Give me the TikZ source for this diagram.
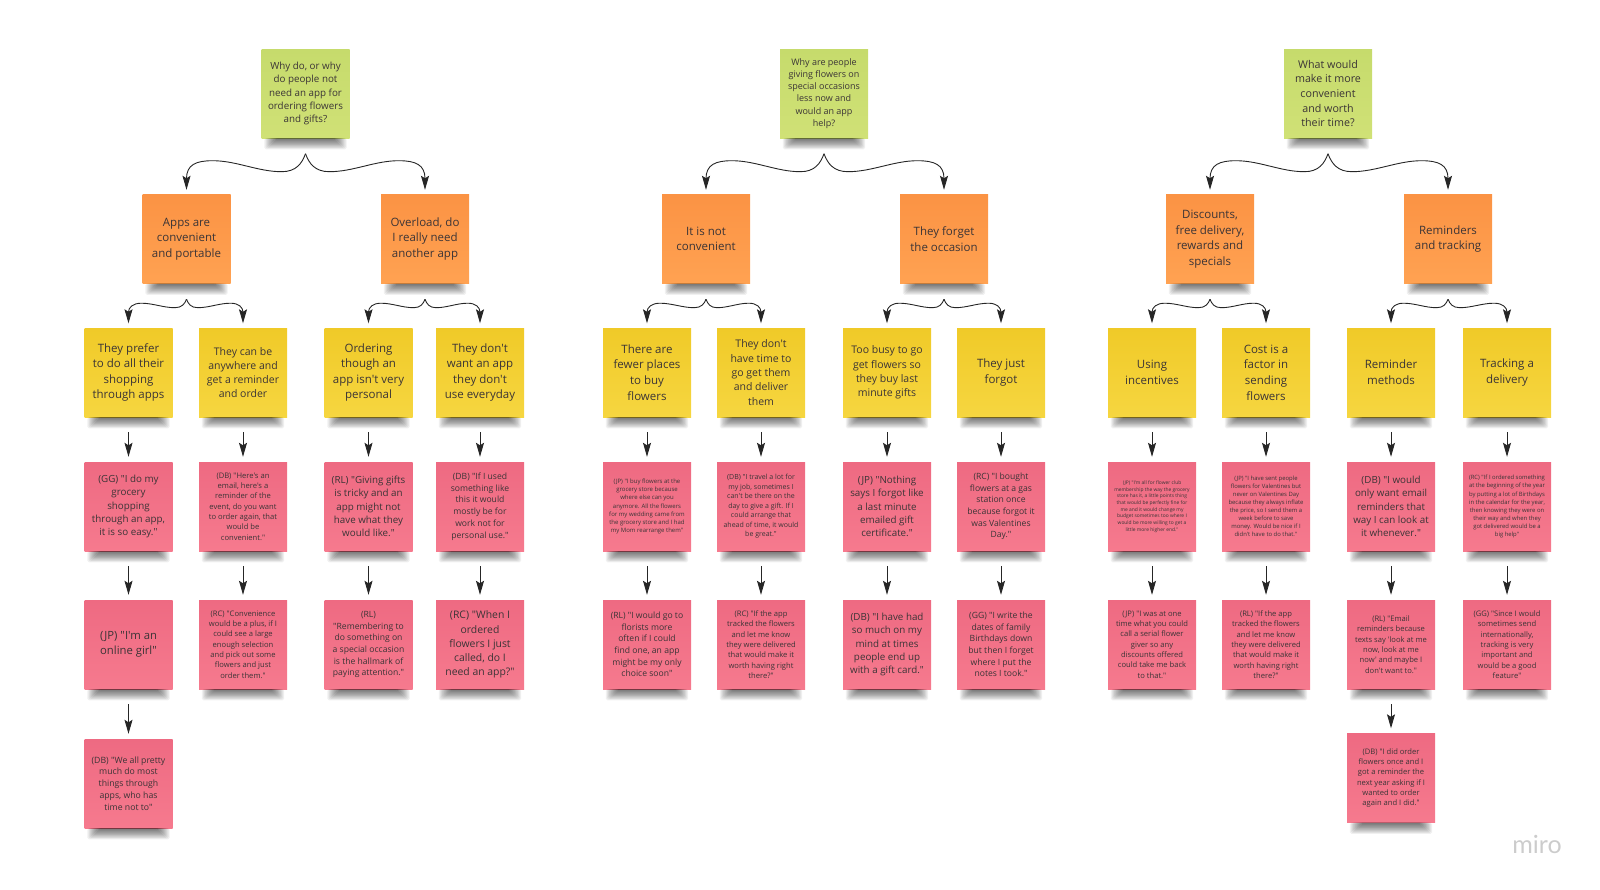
\documentclass[tikz,border=0pt]{standalone}
\usepackage{fontspec}
\usetikzlibrary{arrows.meta,calc}
\newfontfamily\osf{Open Sans}
\newfontfamily\logofont{Lato}
\definecolor{inkc}{HTML}{3B3436}
\definecolor{c6db6c}{HTML}{C6DB6C}\definecolor{d0e176}{HTML}{D0E176}
\definecolor{fb9344}{HTML}{FB9344}\definecolor{ffa252}{HTML}{FFA252}
\definecolor{f0ca28}{HTML}{F0CA28}\definecolor{f6d640}{HTML}{F6D640}
\definecolor{ec6a82}{HTML}{EE6A82}\definecolor{f57a8e}{HTML}{F67A8E}
\tikzset{
  note/.style={minimum width=88pt,minimum height=89pt,inner sep=0pt,align=center,text=inkc},
  greennote/.style={note,top color=c6db6c,bottom color=d0e176},
  orangenote/.style={note,top color=fb9344,bottom color=ffa252},
  yellownote/.style={note,top color=f0ca28,bottom color=f6d640},
  pinknote/.style={note,top color=ec6a82,bottom color=f57a8e},
  conn/.style={draw=black!85,line width=0.9pt,-{Stealth[length=14pt,width=8pt,inset=2.5pt]}},
}
% name, x, y, style, font size, text
\newcommand\sticky[6]{%
  \pgfmathsetmacro\blskip{#5*1.36}%
  \node[#4,font=\osf\fontsize{#5}{\blskip}\selectfont] (#1) at (#2,#3) {#6};
  \foreach \i in {1,...,12}{
    \fill[black,opacity=0.058,rounded corners=1.5pt] ([xshift={2+\i*1.1},yshift=0pt]#1.south west) rectangle ([xshift={-2-\i*1.1},yshift={-12+\i*0.9}]#1.south east);
  }
}
% parent, child, dip, high
\newcommand\curly[4]{%
  \draw[conn] let \p1=($(#1.south)+(0,15.5)$), \p2=($(#2.north)+(0,-4.5)$), \n1={\x2-\x1} in
    (\x1,\y1) .. controls ({\x1+0.03*\n1},{\y1-0.55*#3}) and ({\x1+0.08*\n1},{\y1-#3}) ..
    ({\x1+0.2*\n1},{\y1-#3}) .. controls ({\x1+0.4*\n1},{\y1-#3}) and ({\x1+0.58*\n1},{\y1-#4}) ..
    ({\x1+0.78*\n1},{\y1-#4}) .. controls ({\x1+0.92*\n1},{\y1-#4}) and (\x2,{\y1-#4-4pt}) .. (\x2,\y2);
}
\newcommand\flow[2]{\draw[conn] ($(#1.south)+(0,15)$) -- ($(#2.north)+(0,-5)$);}
\begin{document}
\begin{tikzpicture}[x=1pt,y=-1pt]
\useasboundingbox (0,0) rectangle (1600,889);
% ---------- column A
\sticky{qa}{305.5}{93.5}{greennote}{9.8}{Why do, or why\\do people not\\need an app for\\ordering flowers\\and gifts?}
\sticky{oa}{186.5}{239}{orangenote}{11.5}{Apps are\\convenient\\and portable}
\sticky{ob}{425}{239}{orangenote}{11.5}{Overload, do\\I really need\\another app}
\sticky{ya}{128.5}{372.5}{yellownote}{11.5}{They prefer\\to do all their\\shopping\\through apps}
\sticky{yb}{243}{372.5}{yellownote}{10.5}{They can be\\anywhere and\\get a reminder\\and order}
\sticky{yc}{368.5}{372.5}{yellownote}{11.5}{Ordering\\though an\\app isn't very\\personal}
\sticky{yd}{480}{372.5}{yellownote}{11.5}{They don't\\want an app\\they don't\\use everyday}
\sticky{pa}{128.5}{506.5}{pinknote}{9.8}{(GG) "I do my\\grocery\\shopping\\through an app,\\it is so easy."}
\sticky{pb}{243}{506.5}{pinknote}{7.6}{(DB) "Here's an\\email, here's a\\reminder of the\\event, do you want\\to order again, that\\would be\\convenient."}
\sticky{pc}{368.5}{506.5}{pinknote}{9.8}{(RL) "Giving gifts\\is tricky and an\\app might not\\have what they\\would like."}
\sticky{pd}{480}{506.5}{pinknote}{8.6}{(DB) "If I used\\something like\\this it would\\mostly be for\\work not for\\personal use."}
\sticky{ra}{128.5}{644.5}{pinknote}{11.3}{(JP) "I'm an\\online girl"}
\sticky{rb}{243}{644.5}{pinknote}{7.6}{(RC) "Convenience\\would be a plus, if I\\could see a large\\enough selection\\and pick out some\\flowers and just\\order them."}
\sticky{rc}{368.5}{644.5}{pinknote}{8.6}{(RL)\\"Remembering to\\do something on\\a special occasion\\is the hallmark of\\paying attention."}
\sticky{rd}{480}{644.5}{pinknote}{10.4}{(RC) "When I\\ordered\\flowers I just\\called, do I\\need an app?"}
\sticky{sa}{128.5}{783.5}{pinknote}{8.7}{(DB) "We all pretty\\much do most\\things through\\apps, who has\\time not to"}
% ---------- column B
\sticky{qb}{824}{93.5}{greennote}{9}{Why are people\\giving flowers on\\special occasions\\less now and\\would an app\\help?}
\sticky{oc}{706}{239}{orangenote}{11.5}{It is not\\convenient}
\sticky{od}{944}{239}{orangenote}{11.5}{They forget\\the occasion}
\sticky{ye}{647}{372.5}{yellownote}{11.5}{There are\\fewer places\\to buy\\flowers}
\sticky{yf}{761}{372.5}{yellownote}{10.5}{They don't\\have time to\\go get them\\and deliver\\them}
\sticky{yg}{887}{372.5}{yellownote}{10.5}{Too busy to go\\get flowers so\\they buy last\\minute gifts}
\sticky{yh}{1001}{372.5}{yellownote}{11.5}{They just\\forgot}
\sticky{pe}{647}{506.5}{pinknote}{6}{(JP) "I buy flowers at the\\grocery store because\\where else can you\\anymore. All the flowers\\for my wedding came from\\the grocery store and I had\\my Mom rearrange them"}
\sticky{pf}{761}{506.5}{pinknote}{7}{(DB) "I travel a lot for\\my job, sometimes I\\can't be there on the\\day to give a gift. If I\\could arrange that\\ahead of time, it would\\be great."}
\sticky{pg}{887}{506.5}{pinknote}{9.8}{(JP) "Nothing\\says I forgot like\\a last minute\\emailed gift\\certificate."}
\sticky{ph}{1001}{506.5}{pinknote}{8.6}{(RC) "I bought\\flowers at a gas\\station once\\because forgot it\\was Valentines\\Day."}
\sticky{re}{647}{644.5}{pinknote}{8.6}{(RL) "I would go to\\florists more\\often if I could\\find one, an app\\might be my only\\choice soon"}
\sticky{rf}{761}{644.5}{pinknote}{7.6}{(RC) "If the app\\tracked the flowers\\and let me know\\they were delivered\\that would make it\\worth having right\\there?"}
\sticky{rg}{887}{644.5}{pinknote}{9.8}{(DB) "I have had\\so much on my\\mind at times\\people end up\\with a gift card."}
\sticky{rh}{1001}{644.5}{pinknote}{8.6}{(GG) "I write the\\dates of family\\Birthdays down\\but then I forget\\where I put the\\notes I took."}
% ---------- column C
\sticky{qc}{1328}{93.5}{greennote}{10.7}{What would\\make it more\\convenient\\and worth\\their time?}
\sticky{oe}{1210}{239}{orangenote}{11.5}{Discounts,\\free delivery,\\rewards and\\specials}
\sticky{of}{1448}{239}{orangenote}{11.5}{Reminders\\and tracking}
\sticky{yi}{1152}{372.5}{yellownote}{11.5}{Using\\incentives}
\sticky{yj}{1266}{372.5}{yellownote}{11.5}{Cost is a\\factor in\\sending\\flowers}
\sticky{yk}{1391}{372.5}{yellownote}{11.5}{Reminder\\methods}
\sticky{yl}{1507}{372.5}{yellownote}{11.5}{Tracking a\\delivery}
\sticky{pi}{1152}{506.5}{pinknote}{4.9}{(JP) "I'm all for flower club\\membership the way the grocery\\store has it, a little points thing\\that would be perfectly fine for\\me and it would change my\\budget sometimes too where I\\would be more willing to get a\\little more higher end."}
\sticky{pj}{1266}{506.5}{pinknote}{5.9}{(JP) "I have sent people\\flowers for Valentines but\\never on Valentines Day\\because they always inflate\\the price, so I send them a\\week before to save\\money. Would be nice if I\\didn't have to do that."}
\sticky{pk}{1391}{506.5}{pinknote}{9.8}{(DB) "I would\\only want email\\reminders that\\way I can look at\\it whenever."}
\sticky{pl}{1507}{506.5}{pinknote}{5.9}{(RC) "If I ordered something\\at the beginning of the year\\by putting a lot of Birthdays\\in the calendar for the year,\\then knowing they were on\\their way and when they\\got delivered would be a\\big help"}
\sticky{ri}{1152}{644.5}{pinknote}{7.6}{(JP) "I was at one\\time what you could\\call a serial flower\\giver so any\\discounts offered\\could take me back\\to that."}
\sticky{rj}{1266}{644.5}{pinknote}{7.6}{(RL) "If the app\\tracked the flowers\\and let me know\\they were delivered\\that would make it\\worth having right\\there?"}
\sticky{rk}{1391}{644.5}{pinknote}{7.6}{(RL) "Email\\reminders because\\texts say 'look at me\\now, look at me\\now' and maybe I\\don't want to."}
\sticky{rl}{1507}{644.5}{pinknote}{7.6}{(GG) "Since I would\\sometimes send\\internationally,\\tracking is very\\important and\\would be a good\\feature"}
\sticky{sk}{1391}{778}{pinknote}{7.6}{(DB) "I did order\\flowers once and I\\got a reminder the\\next year asking if I\\wanted to order\\again and I did."}
% ---------- connectors
\foreach \pn/\ca/\cb in {qa/oa/ob,qb/oc/od,qc/oe/of}{
  \curly{\pn}{\ca}{18pt}{7pt}\curly{\pn}{\cb}{18pt}{7pt}
}
\foreach \pn/\ca/\cb in {oa/ya/yb,ob/yc/yd,oc/ye/yf,od/yg/yh,oe/yi/yj,of/yk/yl}{
  \curly{\pn}{\ca}{8.5pt}{4pt}\curly{\pn}{\cb}{8.5pt}{4pt}
}
\foreach \aa/\bb in {ya/pa,yb/pb,yc/pc,yd/pd,ye/pe,yf/pf,yg/pg,yh/ph,yi/pi,yj/pj,yk/pk,yl/pl,
  pa/ra,pb/rb,pc/rc,pd/rd,pe/re,pf/rf,pg/rg,ph/rh,pi/ri,pj/rj,pk/rk,pl/rl,ra/sa,rk/sk}{
  \flow{\aa}{\bb}
}
\node[text=black!20,font=\logofont\fontsize{25}{28}\selectfont,anchor=center,inner sep=0pt] (logo) at (1537,844) {miro};
\end{tikzpicture}
\end{document}
